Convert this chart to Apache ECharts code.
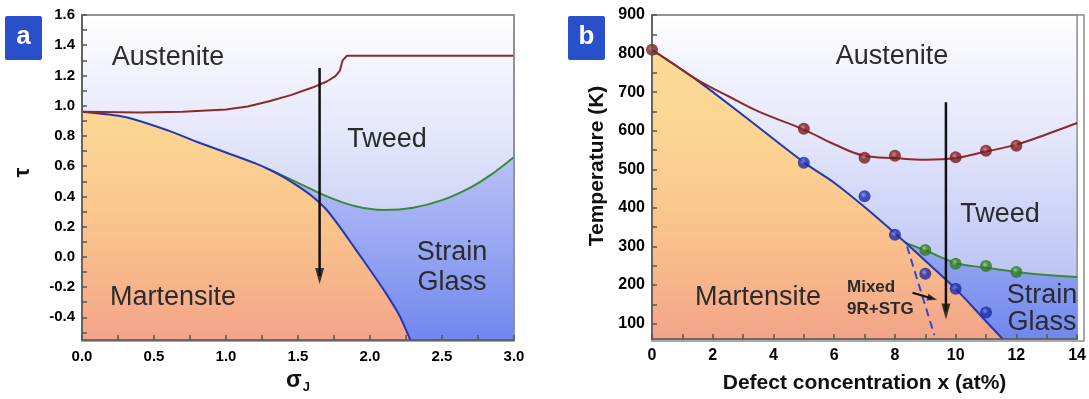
<!DOCTYPE html>
<html>
<head>
<meta charset="utf-8">
<script src="https://cdn.jsdelivr.net/npm/echarts@6/dist/echarts.min.js"></script>
<style>
  html, body { margin: 0; padding: 0; background: #fff; }
  #chart { width: 1089px; height: 399px; }
</style>
</head>
<body>
<div id="chart"></div>
<script>
// ---- panel a: phase boundaries, x = sigma_J, y = tau ----
const aRed = [[0, 0.96], [0.4, 0.955], [0.7, 0.96], [1.0, 0.975], [1.15, 0.995], [1.3, 1.03], [1.45, 1.07],
  [1.6, 1.12], [1.7, 1.16], [1.76, 1.195], [1.79, 1.23], [1.81, 1.30], [1.84, 1.33], [3.0, 1.33]];
const aBlue = [[0, 0.96], [0.3, 0.925], [0.6, 0.835], [0.8, 0.76], [1.0, 0.69], [1.2, 0.62], [1.3, 0.578],
  [1.4, 0.528], [1.5, 0.468], [1.6, 0.40], [1.7, 0.31], [1.8, 0.185], [1.9, 0.05], [2.0, -0.085],
  [2.1, -0.225], [2.2, -0.38], [2.28, -0.55]];
const aGreen = [[1.3, 0.578], [1.5, 0.49], [1.7, 0.40], [1.9, 0.335], [2.1, 0.31], [2.3, 0.325],
  [2.5, 0.375], [2.7, 0.46], [2.85, 0.55], [3.0, 0.66]];
const aArrow = [[1.65, 1.25], [1.65, -0.127]];
const aArrowHead = [[1.65, -0.127]];
const aXLabels = [0, 0.5, 1.0, 1.5, 2.0, 2.5, 3.0];
const aXTicks = [0, 0.25, 0.5, 0.75, 1.0, 1.25, 1.5, 1.75, 2.0, 2.25, 2.5, 2.75, 3.0];
const aYLabels = [-0.4, -0.2, 0, 0.2, 0.4, 0.6, 0.8, 1.0, 1.2, 1.4, 1.6];
const aYTicks = [-0.5, -0.4, -0.3, -0.2, -0.1, 0, 0.1, 0.2, 0.3, 0.4, 0.5, 0.6, 0.7, 0.8, 0.9, 1.0,
  1.1, 1.2, 1.3, 1.4, 1.5, 1.6];

// ---- panel b: x = defect concentration (at%), y = temperature (K) ----
const bRedPts = [[0, 810], [5, 605], [7, 530], [8, 535], [10, 531], [11, 548], [12, 561]];
const bBluePts = [[5, 517], [7, 430], [8, 330], [9, 229], [10, 190], [11, 129]];
const bGreenPts = [[9, 291], [10, 255], [11, 249], [12, 234]];
const bRedCurve = [[0, 810], [0.8, 768], [1.55, 729], [2.5, 690], [3.5, 650], [5, 603], [6, 565], [7, 535],
  [8, 529], [9, 525], [10, 529], [11, 546], [12, 564], [13, 591], [14, 620]];
const bBlueCurve = [[0, 810], [1.5, 730], [3, 640], [5, 518], [6, 465], [7, 402], [8, 334], [9, 263],
  [10, 190], [11, 106], [11.55, 60]];
const bGreenCurve = [[8.35, 309], [9, 290], [10, 257], [11, 245], [12, 234], [13, 226], [14, 221]];
const bDashed = [[8.4, 300], [9.3, 70]];
const bArrow = [[9.68, 674], [9.68, 131]];
const bArrowHead = [[9.68, 131]];
const bMixArrow = [[8.58, 180], [9.23, 165]];
const bMixArrowHead = [[9.23, 165]];
const bXLabels = [0, 2, 4, 6, 8, 10, 12, 14];
const bXTicks = [0, 1, 2, 3, 4, 5, 6, 7, 8, 9, 10, 11, 12, 13, 14];
const bYLabels = [100, 200, 300, 400, 500, 600, 700, 800, 900];
const bYTicks = [100, 150, 200, 250, 300, 350, 400, 450, 500, 550, 600, 650, 700, 750, 800, 850, 900];

const FF = '"Liberation Sans", Arial, sans-serif';
const chart = echarts.init(document.getElementById('chart'));

const LG = echarts.graphic.LinearGradient;
// gradients in page pixels so both panels share them
const bgGrad = () => new LG(0, 15, 0, 341, [
  { offset: 0, color: '#ffffff' }, { offset: 0.15, color: '#f4f4fd' }, { offset: 0.4, color: '#e2e4fa' },
  { offset: 0.65, color: '#cbd0f7' }, { offset: 1, color: '#abb5f3' }], true);
const sgGrad = () => new LG(0, 150, 0, 341, [
  { offset: 0, color: '#bac3f6' }, { offset: 0.5, color: '#98a7f2' }, { offset: 1, color: '#6f86ee' }], true);
const martGrad = () => new LG(0, 15, 0, 341, [
  { offset: 0, color: '#fde0a0' }, { offset: 0.14, color: '#fdd996' }, { offset: 0.35, color: '#fcd592' },
  { offset: 0.57, color: '#fbc98e' }, { offset: 0.75, color: '#f8bb8b' }, { offset: 1, color: '#f3a389' }], true);

function ball(light, dark) {
  return {
    type: 'radial', x: 0.42, y: 0.38, r: 0.6,
    colorStops: [{ offset: 0, color: light }, { offset: 0.45, color: dark }, { offset: 1, color: dark }]
  };
}

function valueAxis(grid, min, max, labels, ticks, fmt, size) {
  return {
    type: 'value', gridIndex: grid, min: min, max: max, z: 10,
    axisLine: { show: true, onZero: false, lineStyle: { color: '#555', width: 1.5 } },
    axisTick: { show: true, inside: true, length: 5, customValues: ticks, lineStyle: { color: '#555', width: 1.5 } },
    axisLabel: { customValues: labels, formatter: fmt, color: '#000', fontWeight: 'bold', fontSize: size, fontFamily: FF, margin: 7 },
    splitLine: { show: false }
  };
}

// arrow = shaft line + triangle head
function shaft(xi, yi, pts, width) {
  return { type: 'line', xAxisIndex: xi, yAxisIndex: yi, data: pts, symbol: 'none', z: 6,
    lineStyle: { color: '#111', width: width } };
}
function head(xi, yi, pts, size, rot) {
  return { type: 'scatter', xAxisIndex: xi, yAxisIndex: yi, data: pts, symbol: 'triangle',
    symbolSize: size, symbolRotate: rot, z: 6, itemStyle: { color: '#111' } };
}

function label(x, y, text, size, weight, align) {
  return {
    type: 'text', x: x, y: y, z: 20,
    style: {
      text: text, fill: '#2b2b2b', font: (weight || 'normal') + ' ' + size + 'px ' + FF,
      align: align || 'center', verticalAlign: 'middle',
      textAlign: align || 'center', textVerticalAlign: 'middle'
    }
  };
}

function panelTag(x, y, ch) {
  return {
    type: 'group', x: x, y: y, z: 20,
    children: [
      { type: 'rect', shape: { x: 0, y: 0, width: 37, height: 44, r: 2 }, style: { fill: '#2a4fcb' } },
      { type: 'text', x: 18.5, y: 21, style: { text: ch, fill: '#fff', font: 'bold 26px ' + FF,
        align: 'center', verticalAlign: 'middle', textAlign: 'center', textVerticalAlign: 'middle' } }
    ]
  };
}

const xA = valueAxis(0, 0, 3, aXLabels, aXTicks, v => v.toFixed(1), 15);
xA.axisLabel.margin = 9;
xA.name = '{s|σ}{j|J}';
xA.nameLocation = 'middle';
xA.nameGap = 27;
xA.nameTextStyle = {
  rich: {
    s: { fontSize: 23, fontWeight: 'bold', color: '#111', fontFamily: FF },
    j: { fontSize: 13, fontWeight: 'bold', color: '#111', fontFamily: FF, padding: [14, 0, 0, 1] }
  }
};
const yA = valueAxis(0, -0.55, 1.6, aYLabels, aYTicks, v => v.toFixed(1), 15);
yA.name = 'τ';
yA.nameLocation = 'middle';
yA.nameGap = 48;
yA.nameTextStyle = { fontSize: 22, fontWeight: 'bold', color: '#111', fontFamily: FF, padding: [0, 0, 0, 10] };

const xB = valueAxis(1, 0, 14, bXLabels, bXTicks, v => String(v), 16);
xB.axisLabel.margin = 9;
xB.name = 'Defect concentration x (at%)';
xB.nameLocation = 'middle';
xB.nameGap = 34;
xB.nameTextStyle = { fontSize: 21, fontWeight: 'bold', color: '#111', fontFamily: FF };
const yB = valueAxis(1, 60, 900, bYLabels, bYTicks, v => String(v), 16);
yB.name = 'Temperature (K)';
yB.nameLocation = 'middle';
yB.nameGap = 44;
yB.nameTextStyle = { fontSize: 21, fontWeight: 'bold', color: '#111', fontFamily: FF, padding: [0, 0, 0, 22] };

const gridBox = (left) => ({
  left: left, top: 15, width: 432, height: 326, show: true,
  backgroundColor: bgGrad(), borderColor: '#8c8c8c', borderWidth: 1.5
});

const option = {
  animation: false,
  grid: [gridBox(82), gridBox(652)],
  xAxis: [xA, xB],
  yAxis: [yA, yB],
  graphic: [
    { type: 'rect', z: 5, shape: { x: 82, y: 15, width: 432, height: 326 }, style: { fill: 'none', stroke: '#8c8c8c', lineWidth: 1.5 } },
    { type: 'rect', z: 5, shape: { x: 652, y: 15, width: 432, height: 326 }, style: { fill: 'none', stroke: '#8c8c8c', lineWidth: 1.5 } },
    panelTag(5, 16, 'a'),
    panelTag(568, 16, 'b'),
    label(168, 58, 'Austenite', 27),
    label(387, 140, 'Tweed', 27),
    label(173, 298, 'Martensite', 27),
    label(452, 253, 'Strain', 27),
    label(452, 283, 'Glass', 27),
    label(892, 57, 'Austenite', 27),
    label(1000, 215, 'Tweed', 27),
    label(758, 298, 'Martensite', 27),
    label(1042, 296, 'Strain', 27),
    label(1042, 323, 'Glass', 27),
    label(847, 287, 'Mixed', 17, 'bold', 'left'),
    label(847, 309, '9R+STG', 17, 'bold', 'left')
  ],
  series: [
    // panel a
    { type: 'line', xAxisIndex: 0, yAxisIndex: 0, data: aGreen, smooth: 0.4, symbol: 'none', z: 2,
      lineStyle: { color: '#3b8a34', width: 2 }, areaStyle: { origin: 'start', color: sgGrad(), opacity: 1 } },
    { type: 'line', xAxisIndex: 0, yAxisIndex: 0, data: aBlue, smooth: 0.25, symbol: 'none', z: 3,
      lineStyle: { color: '#2238b2', width: 2 }, areaStyle: { origin: 'start', color: martGrad(), opacity: 1 } },
    { type: 'line', xAxisIndex: 0, yAxisIndex: 0, data: aRed, smooth: false, symbol: 'none', z: 4,
      lineStyle: { color: '#8c2a2a', width: 2 } },
    shaft(0, 0, aArrow, 2.5),
    head(0, 0, aArrowHead, [9, 16], 180),
    // panel b
    { type: 'line', xAxisIndex: 1, yAxisIndex: 1, data: bGreenCurve, smooth: 0.4, symbol: 'none', z: 2,
      lineStyle: { color: '#3b8a34', width: 2 }, areaStyle: { origin: 'start', color: sgGrad(), opacity: 1 } },
    { type: 'line', xAxisIndex: 1, yAxisIndex: 1, data: bBlueCurve, smooth: 0.3, symbol: 'none', z: 3,
      lineStyle: { color: '#2238b2', width: 2 }, areaStyle: { origin: 'start', color: martGrad(), opacity: 1 } },
    { type: 'line', xAxisIndex: 1, yAxisIndex: 1, data: bRedCurve, smooth: 0.4, symbol: 'none', z: 4,
      lineStyle: { color: '#8c2a2a', width: 2 } },
    { type: 'line', xAxisIndex: 1, yAxisIndex: 1, data: bDashed, symbol: 'none', z: 4,
      lineStyle: { color: '#2f48d8', width: 2, type: [8, 5] } },
    { type: 'scatter', xAxisIndex: 1, yAxisIndex: 1, data: bRedPts, symbolSize: 12, z: 5,
      itemStyle: { color: ball('#c46a6a', '#7a1a1a') } },
    { type: 'scatter', xAxisIndex: 1, yAxisIndex: 1, data: bBluePts, symbolSize: 12, z: 5,
      itemStyle: { color: ball('#7c8cf0', '#1a2aa8') } },
    { type: 'scatter', xAxisIndex: 1, yAxisIndex: 1, data: bGreenPts, symbolSize: 12, z: 5,
      itemStyle: { color: ball('#8fcc7e', '#2f7a1f') } },
    shaft(1, 1, bArrow, 2.5),
    head(1, 1, bArrowHead, [9, 16], 180),
    shaft(1, 1, bMixArrow, 2),
    head(1, 1, bMixArrowHead, [7, 10], -105.6)
  ]
};

chart.setOption(option);
</script>
</body>
</html>
